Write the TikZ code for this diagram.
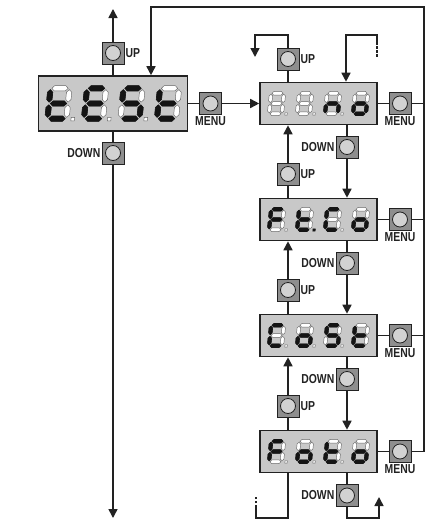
\documentclass[tikz,border=0pt]{standalone}
\usepackage{fontspec}
\newfontfamily\lblfont{Liberation Sans}[FakeStretch=0.8]
\usetikzlibrary{arrows.meta}
\definecolor{dispbg}{HTML}{C8C8C8}
\definecolor{btnc}{HTML}{8E8E8E}
\definecolor{btnlight}{HTML}{D2D2D2}
\definecolor{linec}{HTML}{222222}
\def\segma{(-4.3,-8) -- (-2.9,-9.4) -- (2.9,-9.4) -- (4.3,-8) -- (2.9,-6.6) -- (-2.9,-6.6) -- cycle}
\def\segmg{(-4.3,0) -- (-2.9,-1.4) -- (2.9,-1.4) -- (4.3,0) -- (2.9,1.4) -- (-2.9,1.4) -- cycle}
\def\segmd{(-4.3,8) -- (-2.9,6.6) -- (2.9,6.6) -- (4.3,8) -- (2.9,9.4) -- (-2.9,9.4) -- cycle}
\def\segmf{(-5,-7.3) -- (-3.6,-5.9) -- (-3.6,-2.1) -- (-5,-0.7) -- (-6.4,-2.1) -- (-6.4,-5.9) -- cycle}
\def\segmb{(5,-7.3) -- (6.4,-5.9) -- (6.4,-2.1) -- (5,-0.7) -- (3.6,-2.1) -- (3.6,-5.9) -- cycle}
\def\segme{(-5,0.7) -- (-3.6,2.1) -- (-3.6,5.9) -- (-5,7.3) -- (-6.4,5.9) -- (-6.4,2.1) -- cycle}
\def\segmc{(5,0.7) -- (6.4,2.1) -- (6.4,5.9) -- (5,7.3) -- (3.6,5.9) -- (3.6,2.1) -- cycle}
\def\segmnone{}
% #1 x, #2 y, #3 scale, #4 lit segments, #5 style of the dot
\newcommand\sevdig[5]{%
  \begin{scope}[shift={(#1,#2)},xslant=0.1,scale=#3]
    \foreach \sg in {a,b,c,d,e,f,g}{\path[ghost] \csname segm\sg\endcsname;}
    \foreach \sg in {#4}{\path[litseg] \csname segm\sg\endcsname;}
    \path[#5] (7.4,7.3) rectangle (9.2,9.1);
  \end{scope}}
\tikzset{
  conn/.style={line width=1.6pt, draw=linec},
  arr/.style={conn, -{Triangle[width=9pt,length=9pt]}},
  dashpart/.style={conn, dash pattern=on 2.5pt off 1.5pt},
  disp/.style={draw=linec, line width=1.6pt, fill=dispbg, minimum width=117pt, minimum height=42pt, inner sep=0pt},
  bigdisp/.style={disp, minimum width=149pt, minimum height=55pt},
  btn/.style={draw=linec, line width=1pt, fill=btnc, minimum size=22pt, inner sep=0pt,
    path picture={\draw[line width=0.8pt, draw=linec, fill=btnlight] (path picture bounding box.center) circle (7.5pt);}},
  lbl/.style={font=\lblfont\bfseries\fontsize{13}{15}\selectfont, inner sep=1pt, text=linec},
  ghost/.style={fill=white, draw=black!60, line width=0.45pt},
  litseg/.style={fill=black!92, draw=black!92, line width=0.6pt},
  nodot/.style={},
}
\begin{document}
\begin{tikzpicture}[x=1pt,y=-1pt]
\useasboundingbox[fill=white] (0,0) rectangle (442,530);

% left column
\node[bigdisp] (test) at (113,103.5) {};
\node[btn] (upT) at (113,53) {};
\node[lbl, anchor=west] (upTl) at (upT.east) {UP};
\node[btn] (dnT) at (113,153) {};
\node[lbl, anchor=east] (dnTl) at (dnT.west) {DOWN};
\node[btn] (mT) at (210.5,103.5) {};
\node[lbl, anchor=north] (mTl) at (mT.south) {MENU};
\coordinate (lt) at (113,9);
\coordinate (lb) at (113,518);
\draw[conn] (test.north -| upT) -- (upT);
\draw[arr] (upT) -- (lt);
\draw[conn] (test.south -| dnT) -- (dnT);
\draw[arr] (dnT) -- (lb);

% right column displays and MENU buttons
\foreach \n/\y in {no/103.5, ftco/219.5, cost/335.5, foto/451.5}{
  \node[disp] (\n) at (318.5,\y) {};
  \node[btn] (m\n) at (400,\y) {};
  \node[lbl, anchor=north] (m\n l) at (m\n.south) {MENU};
  \draw[conn] (\n.east) -- (m\n.west);
}
\draw[conn] (test.east) -- (mT.west);
\draw[arr] (mT.east) -- (no.west);

% right bus back to the test display
\coordinate (rTop) at (424,7);
\coordinate (lTop) at (151,7);
\draw[arr] (mfoto.east) -- (mfoto.east -| rTop) -- (rTop) -- (lTop) -- (test.north -| lTop);
\draw[conn] (mno.east) -- (mno.east -| rTop);
\draw[conn] (mftco.east) -- (mftco.east -| rTop);
\draw[conn] (mcost.east) -- (mcost.east -| rTop);

% above the first display
\node[btn] (upN) at (288,59) {};
\node[lbl, anchor=west] (upNl) at (upN.east) {UP};
\coordinate (c1) at (288,35);
\coordinate (c2) at (255,35);
\coordinate (c2e) at (255,57);
\draw[conn] (no.north -| upN) -- (upN);
\draw[arr] (upN) -- (c1) -- (c2) -- (c2e);
\coordinate (c3) at (346,35);
\coordinate (c4) at (377,35);
\coordinate (c5) at (377,42);
\coordinate (c6) at (377,58);
\draw[arr] (c5) -- (c4) -- (c3) -- (no.north -| c3);
\draw[dashpart] (c5) -- (c6);

% between displays
\foreach \a/\b/\y [count=\i] in {no/ftco/103.5, ftco/cost/219.5, cost/foto/335.5}{
  \node[btn] (dn\i) at (347,\y+43.5) {};
  \node[lbl, anchor=east] (dn\i l) at (dn\i.west) {DOWN};
  \node[btn] (up\i) at (288,\y+70.5) {};
  \node[lbl, anchor=west] (up\i l) at (up\i.east) {UP};
  \draw[conn] (\a.south -| dn\i) -- (dn\i);
  \draw[arr] (dn\i) -- (\b.north -| dn\i);
  \draw[conn] (\b.north -| up\i) -- (up\i);
  \draw[arr] (up\i) -- (\a.south -| up\i);
}

% below the last display
\node[btn] (dnF) at (347,495.5) {};
\node[lbl, anchor=east] (dnFl) at (dnF.west) {DOWN};
\coordinate (b1) at (288,518);
\coordinate (b2) at (256,518);
\coordinate (b3) at (256,507);
\coordinate (b4) at (256,496);
\draw[conn] (foto.south -| b1) -- (b1) -- (b2) -- (b3);
\draw[dashpart] (b3) -- (b4);
\coordinate (b5) at (347,518);
\coordinate (b6) at (379,518);
\coordinate (b7) at (379,497);
\draw[conn] (foto.south -| dnF) -- (dnF);
\draw[arr] (dnF) -- (b5) -- (b6) -- (b7);

% seven-segment readouts
\sevdig{58.5}{103.5}{1.9}{d,e,f,g}{ghost}
\sevdig{95}{103.5}{1.9}{a,d,e,f,g}{ghost}
\sevdig{131.5}{103.5}{1.9}{a,c,d,f,g}{ghost}
\sevdig{168}{103.5}{1.9}{d,e,f,g}{nodot}

\sevdig{276.5}{103.5}{1.28}{none}{ghost}
\sevdig{304.5}{103.5}{1.28}{none}{ghost}
\sevdig{332.5}{103.5}{1.28}{c,e,g}{ghost}
\sevdig{360.5}{103.5}{1.28}{c,d,e,g}{nodot}

\sevdig{276.5}{219.5}{1.28}{a,e,f,g}{ghost}
\sevdig{304.5}{219.5}{1.28}{d,e,f,g}{litseg}
\sevdig{332.5}{219.5}{1.28}{a,d,e,f}{ghost}
\sevdig{360.5}{219.5}{1.28}{c,d,e,g}{nodot}

\sevdig{276.5}{335.5}{1.28}{a,d,e,f}{ghost}
\sevdig{304.5}{335.5}{1.28}{c,d,e,g}{ghost}
\sevdig{332.5}{335.5}{1.28}{a,c,d,f,g}{ghost}
\sevdig{360.5}{335.5}{1.28}{d,e,f,g}{nodot}

\sevdig{276.5}{451.5}{1.28}{a,e,f,g}{ghost}
\sevdig{304.5}{451.5}{1.28}{c,d,e,g}{ghost}
\sevdig{332.5}{451.5}{1.28}{d,e,f,g}{ghost}
\sevdig{360.5}{451.5}{1.28}{c,d,e,g}{nodot}
\end{tikzpicture}
\end{document}
